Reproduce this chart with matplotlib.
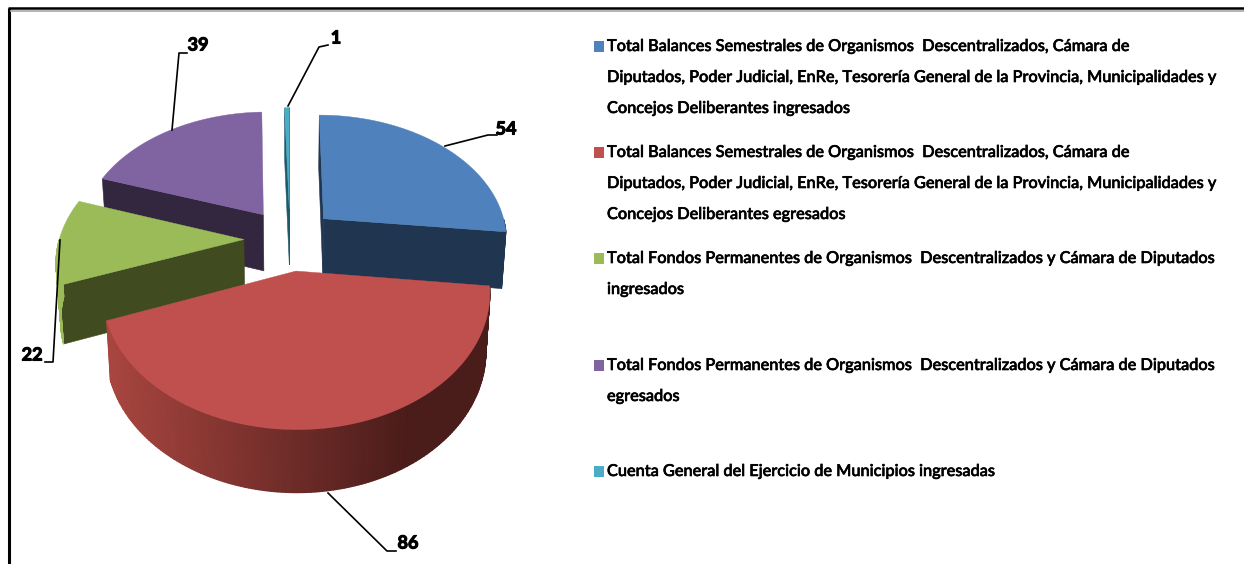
import numpy as np
import matplotlib
matplotlib.use('Agg')
import matplotlib.pyplot as plt
import matplotlib.patheffects as pe
from matplotlib.colors import LinearSegmentedColormap

values = [54, 86, 22, 39, 1]
top_colors = ['#4f81bd', '#c0504d', '#9bbb59', '#8064a2', '#4bacc6']
cut_colors = ['#1f3550', '#4f1f1d', '#404b20', '#33263f', '#1d5a6b']
rim_left = ['#1f3550', '#a8453f', '#9bbb59', '#33263f', '#1d5a6b']
rim_right = ['#1f3550', '#4a1c1a', '#9bbb59', '#33263f', '#1d5a6b']
draw_order = [4, 3, 0, 2, 1]

legend_labels = [
    ['Total Balances Semestrales de Organismos  Descentralizados, Cámara de',
     'Diputados, Poder Judicial, EnRe, Tesorería General de la Provincia, Municipalidades y',
     'Concejos Deliberantes ingresados'],
    ['Total Balances Semestrales de Organismos  Descentralizados, Cámara de',
     'Diputados, Poder Judicial, EnRe, Tesorería General de la Provincia, Municipalidades y',
     'Concejos Deliberantes egresados'],
    ['Total Fondos Permanentes de Organismos  Descentralizados y Cámara de Diputados',
     'ingresados'],
    ['Total Fondos Permanentes de Organismos  Descentralizados y Cámara de Diputados',
     'egresados'],
    ['Cuenta General del Ejercicio de Municipios ingresadas'],
]
legend_y = [47, 153, 259, 366, 472]
line_gap = 31

# leader line vertices and label anchor, one per slice
leader_x = [[445, 488, 497], [328, 387, 396], [60, 53, 45], [172, 179, 187], [288, 319, 328]]
leader_y = [[146, 135, 135], [493, 551, 551], [240, 362, 362], [130, 53, 53], [106, 47, 45]]
label_pos = [(506, 129), (408, 543), (32, 355), (198, 45), (336, 38)]

# pie geometry in pixels
cx, cy = 290, 239
rx, ry = 184.5, 124.5
persp = 0.148
explode = 0.25
depth = 57


def project(x, y, z=0.0):
    s = 1 / (1 + persp * y)
    px = cx + rx * x * s * (1 - 0.02 * z)
    py = cy - ry * y * s + depth * np.sqrt(s) * z
    return px, py


def area(xs, ys):
    return 0.5 * np.sum(xs * np.roll(ys, -1) - np.roll(xs, -1) * ys)


plt.rcParams['font.family'] = ['Lato', 'DejaVu Sans']

fig = plt.figure(figsize=(12.44, 5.64), dpi=100)
ax = fig.add_axes([0, 0, 1, 1])
ax.set_xlim(0, 1244)
ax.set_ylim(564, 0)
ax.axis('off')

# frame of the pasted picture
ax.plot([9, 9], [8, 564], color='black', lw=2.2, solid_capstyle='butt')
ax.plot([8, 1244], [8, 8], color='black', lw=1.8, solid_capstyle='butt')
ax.plot([10, 1244], [10.5, 10.5], color='#a8a8a8', lw=1.2, solid_capstyle='butt')

edges = np.cumsum([0] + values) / sum(values) * 2 * np.pi

for i in draw_order:
    a0, a1 = edges[i], edges[i + 1]
    mid = (a0 + a1) / 2
    ox, oy = explode * np.sin(mid), explode * np.cos(mid)
    th = np.linspace(a0, a1, 160)
    arc_x, arc_y = ox + np.sin(th), oy + np.cos(th)

    # cut faces, only the ones turned to the viewer
    for a, sign in [(a0, -1), (a1, 1)]:
        rim = (ox + np.sin(a), oy + np.cos(a))
        qx, qy = zip(project(ox, oy), project(*rim), project(*rim, 1), project(ox, oy, 1))
        qx, qy = np.array(qx), np.array(qy)
        if sign * area(qx, qy) > 0:
            ax.fill(qx, qy, color=cut_colors[i], lw=0.4, zorder=2)

    # outer wall, front half only, shaded from left to right
    front = np.cos(th) < 0
    if front.sum() > 1:
        xt, yt = project(arc_x[front], arc_y[front])
        xb, yb = project(arc_x[front], arc_y[front], 1)
        shade = np.clip((xt - 110) / 300, 0, 1)
        cmap = LinearSegmentedColormap.from_list('rim', [rim_left[i], rim_right[i]])
        ax.pcolormesh(np.array([xt, xb]), np.array([yt, yb]), np.array([shade, shade]),
                      cmap=cmap, vmin=0, vmax=1, shading='gouraud', zorder=2)

    # top face
    tx, ty = project(np.r_[ox, arc_x], np.r_[oy, arc_y])
    ax.fill(tx, ty, color=top_colors[i], lw=0.3, zorder=2)

# data labels
heavy_label = [pe.withStroke(linewidth=0.8, foreground='black')]
for i, v in enumerate(values):
    ax.plot(leader_x[i], leader_y[i], color='black', lw=1.2, zorder=3)
    ax.text(label_pos[i][0], label_pos[i][1], str(v), fontsize=13, fontweight='bold',
            ha='center', va='center', color='black', zorder=4, path_effects=heavy_label)

# legend, the stroke gives the heavier look of the original text
heavy = [pe.withStroke(linewidth=0.45, foreground='black')]
for i, lines in enumerate(legend_labels):
    ax.fill([594, 604, 604, 594], [legend_y[i] - 6, legend_y[i] - 6, legend_y[i] + 5, legend_y[i] + 5],
            color=top_colors[i], lw=0)
    for n, line in enumerate(lines):
        ax.text(607, legend_y[i] + n * line_gap, line, fontsize=11.75, fontweight='medium',
                ha='left', va='center', color='black', path_effects=heavy)

fig.savefig('out.png', dpi=100)
